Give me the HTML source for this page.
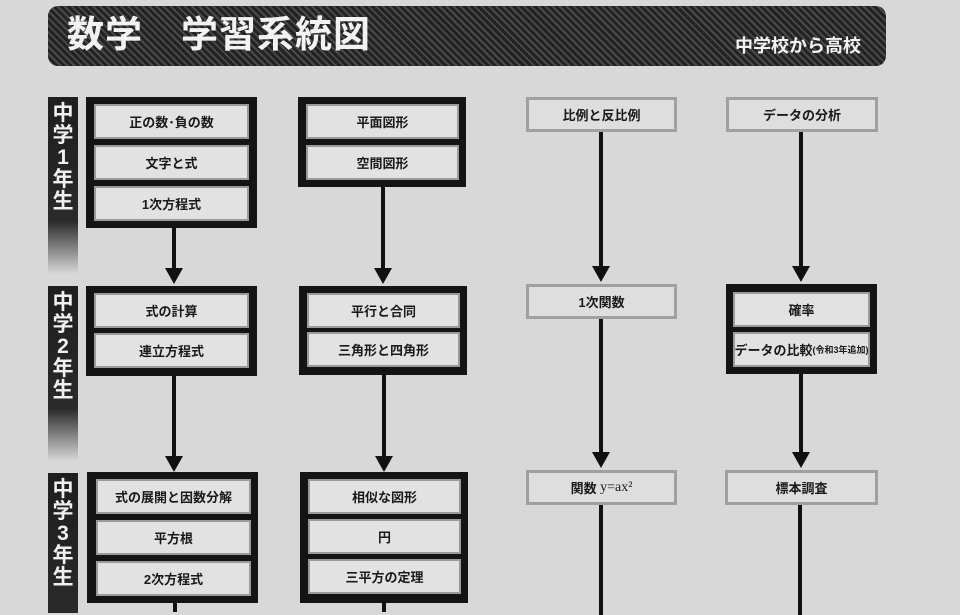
<!DOCTYPE html>
<html><head><meta charset="utf-8"><style>
body{margin:0;width:960px;height:608px;overflow:hidden;background:#d8d8d8;font-family:"Liberation Sans","Noto Sans CJK JP",sans-serif;position:relative}
.a{position:absolute;box-sizing:border-box}
.hdr{left:48px;top:6px;width:838px;height:60px;border-radius:10px;background:repeating-linear-gradient(45deg,#222 0 3px,#4a4a4a 3px 5px)}
.t{color:#f2f2f2;font-weight:bold;white-space:nowrap}
.bar{left:48px;width:30px;background:linear-gradient(#1e1e1e 0,#2a2a2a 70%,#d8d8d8 100%);color:#f0f0f0;font-weight:bold;font-size:21px;line-height:22px;text-align:center;padding-top:6px}
.g{background:#141414}
.c{background:#e2e2e2;border:2px solid #9a9a9a;font-size:13px;font-weight:bold;color:#1a1a1a;display:flex;align-items:center;justify-content:center;white-space:nowrap}
.s{border:3px solid #a0a0a0;background:#dedede}
.l{background:#111;width:4px}
.h{width:0;height:0;border-left:9px solid transparent;border-right:9px solid transparent;border-top:16px solid #111}
</style></head><body>
<div class="a hdr"></div>
<div class="a t" style="left:67px;top:9px;font-size:37px;line-height:52px;letter-spacing:1px">数学　学習系統図</div>
<div class="a t" style="left:735px;top:34px;font-size:18px;line-height:24px">中学校から高校</div>

<div class="a bar" style="top:97px;height:177px">中<br>学<br>1<br>年<br>生</div>
<div class="a bar" style="top:286px;height:175px">中<br>学<br>2<br>年<br>生</div>
<div class="a bar" style="top:473px;height:140px;background:linear-gradient(#1e1e1e,#2a2a2a)">中<br>学<br>3<br>年<br>生</div>

<!-- col1 -->
<div class="a g" style="left:86px;top:97px;width:171px;height:131px"></div>
<div class="a c" style="left:94px;top:104px;width:155px;height:35px">正の数･負の数</div>
<div class="a c" style="left:94px;top:145px;width:155px;height:35px">文字と式</div>
<div class="a c" style="left:94px;top:186px;width:155px;height:35px">1次方程式</div>
<div class="a l" style="left:172px;top:227px;height:44px"></div><div class="a h" style="left:165px;top:268px"></div>
<div class="a g" style="left:86px;top:286px;width:171px;height:90px"></div>
<div class="a c" style="left:94px;top:293px;width:155px;height:35px">式の計算</div>
<div class="a c" style="left:94px;top:333px;width:155px;height:35px">連立方程式</div>
<div class="a l" style="left:172px;top:375px;height:84px"></div><div class="a h" style="left:165px;top:456px"></div>
<div class="a g" style="left:87px;top:472px;width:171px;height:131px"></div>
<div class="a c" style="left:96px;top:479px;width:155px;height:35px">式の展開と因数分解</div>
<div class="a c" style="left:96px;top:520px;width:155px;height:35px">平方根</div>
<div class="a c" style="left:96px;top:561px;width:155px;height:35px">2次方程式</div>
<div class="a l" style="left:173px;top:602px;height:10px"></div>

<!-- col2 -->
<div class="a g" style="left:298px;top:97px;width:168px;height:90px"></div>
<div class="a c" style="left:306px;top:104px;width:153px;height:35px">平面図形</div>
<div class="a c" style="left:306px;top:145px;width:153px;height:35px">空間図形</div>
<div class="a l" style="left:381px;top:187px;height:84px"></div><div class="a h" style="left:374px;top:268px"></div>
<div class="a g" style="left:299px;top:286px;width:168px;height:89px"></div>
<div class="a c" style="left:307px;top:293px;width:153px;height:35px">平行と合同</div>
<div class="a c" style="left:307px;top:332px;width:153px;height:35px">三角形と四角形</div>
<div class="a l" style="left:382px;top:374px;height:84px"></div><div class="a h" style="left:375px;top:456px"></div>
<div class="a g" style="left:300px;top:472px;width:168px;height:131px"></div>
<div class="a c" style="left:308px;top:479px;width:153px;height:35px">相似な図形</div>
<div class="a c" style="left:308px;top:519px;width:153px;height:35px">円</div>
<div class="a c" style="left:308px;top:559px;width:153px;height:35px">三平方の定理</div>
<div class="a l" style="left:382px;top:602px;height:10px"></div>

<!-- col3 -->
<div class="a c s" style="left:526px;top:97px;width:151px;height:35px">比例と反比例</div>
<div class="a l" style="left:599px;top:132px;height:138px"></div><div class="a h" style="left:592px;top:266px"></div>
<div class="a c s" style="left:526px;top:284px;width:151px;height:35px">1次関数</div>
<div class="a l" style="left:599px;top:319px;height:136px"></div><div class="a h" style="left:592px;top:452px"></div>
<div class="a c s" style="left:526px;top:470px;width:151px;height:35px">関数 <span style="font-family:'Liberation Serif',serif;font-weight:normal;font-size:14px">&nbsp;y=ax²</span></div>
<div class="a l" style="left:599px;top:505px;height:110px"></div>

<!-- col4 -->
<div class="a c s" style="left:726px;top:97px;width:152px;height:35px">データの分析</div>
<div class="a l" style="left:799px;top:132px;height:138px"></div><div class="a h" style="left:792px;top:266px"></div>
<div class="a g" style="left:726px;top:284px;width:151px;height:90px"></div>
<div class="a c" style="left:733px;top:292px;width:137px;height:35px">確率</div>
<div class="a c" style="left:733px;top:332px;width:137px;height:35px">データの比較<span style="font-size:9px">(令和3年追加)</span></div>
<div class="a l" style="left:799px;top:374px;height:82px"></div><div class="a h" style="left:792px;top:452px"></div>
<div class="a c s" style="left:725px;top:470px;width:153px;height:35px">標本調査</div>
<div class="a l" style="left:798px;top:505px;height:110px"></div>
</body></html>
